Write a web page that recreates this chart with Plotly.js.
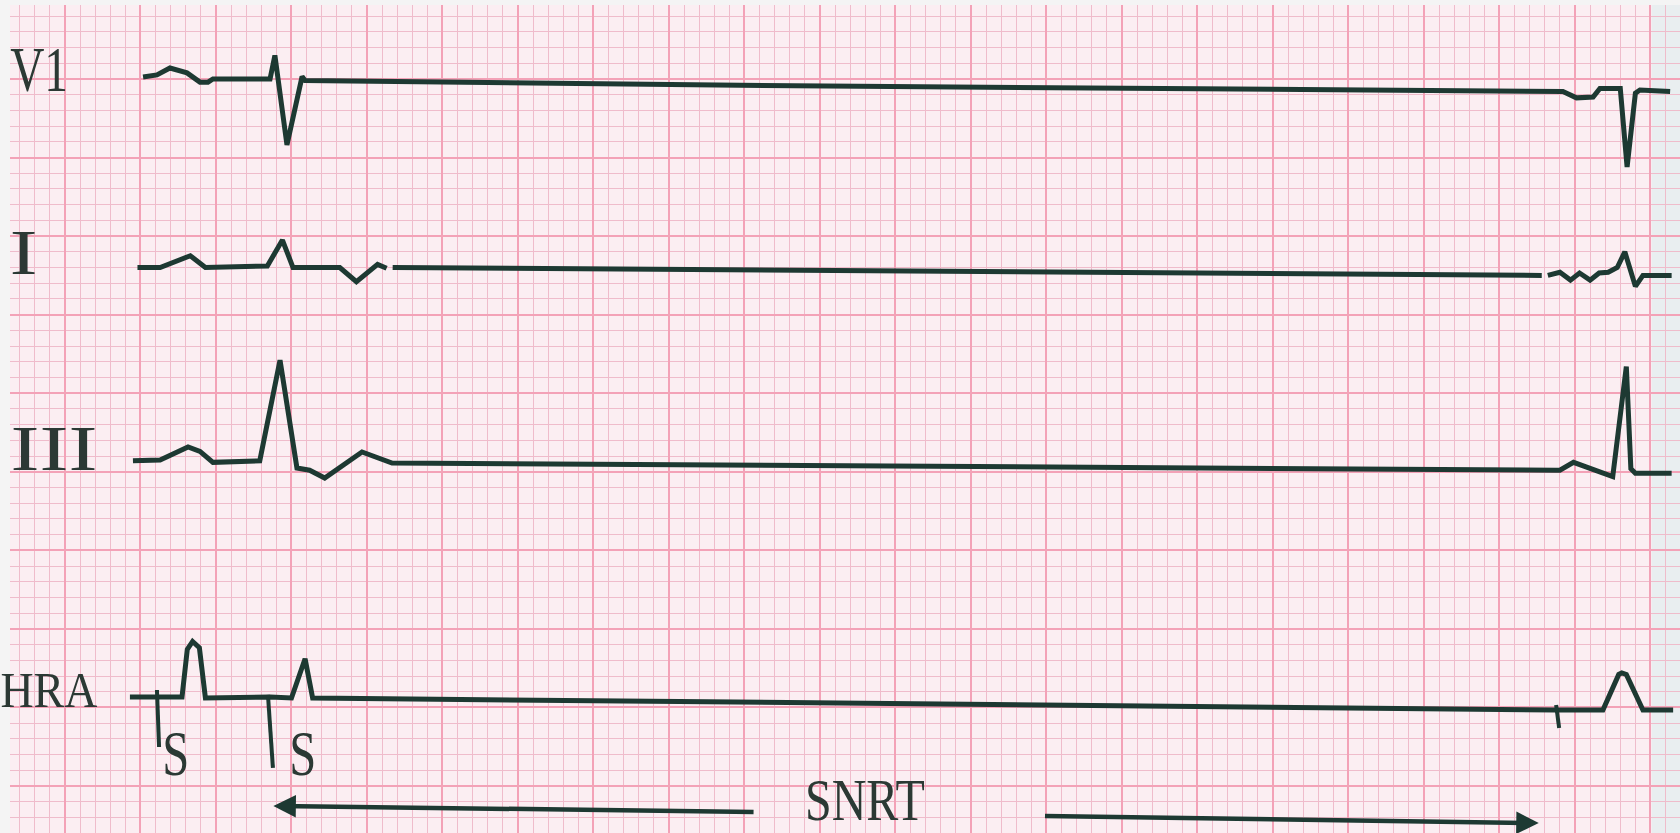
<!DOCTYPE html>
<html>
<head>
<meta charset="utf-8">
<script src="https://cdn.plot.ly/plotly-3.0.1.min.js"></script>
<style>
html,body{margin:0;padding:0;background:#f4f4f4;overflow:hidden}
#chart{width:1680px;height:833px}
</style>
</head>
<body>
<div id="chart"></div>
<script>
// ECG strip values, in millimetres of chart paper (x: time, y: amplitude)
var v1X = [10.17, 11.09, 11.95, 13.08, 13.94, 14.47, 14.8, 18.58, 18.9, 19.7, 20.7, 20.9, 49.7, 98.7, 104.2, 105.1, 106.2, 106.65, 107.8, 108.0, 108.45, 109.0, 109.3, 111.3];
var v1Y = [50.13, 50.26, 50.7, 50.39, 49.8, 49.8, 50.0, 50.0, 51.5, 45.8, 50.15, 49.9, 49.6, 49.2, 49.2, 48.8, 48.85, 49.4, 49.4, 49.4, 44.4, 49.1, 49.3, 49.2];

var iX = [9.8, 11.3, 13.3, 14.3, 18.4, 19.4, 20.1, 23.2, 24.3, 25.7, 26.3, null, 26.7, 102.8, null, 103.2, 104.0, 104.7, 105.3, 106.0, 106.6, 107.2, 107.8, 108.3, 108.5, 109.0, 109.5, 111.4];
var iY = [38.0, 38.0, 38.75, 38.0, 38.1, 39.75, 38.0, 38.0, 37.1, 38.2, 37.95, null, 38.0, 37.5, null, 37.5, 37.7, 37.2, 37.65, 37.2, 37.65, 37.7, 38.0, 39.0, 38.3, 36.8, 37.5, 37.5];

var iiiX = [9.5, 11.3, 13.15, 13.94, 14.8, 17.9, 19.24, 20.36, 21.2, 22.2, 24.67, 25.66, 26.66, 103.7, 104.0, 104.9, 105.5, 106.5, 107.5, 108.4, 108.7, 109.0, 111.4];
var iiiY = [25.7, 25.75, 26.58, 26.3, 25.6, 25.7, 32.1, 25.24, 25.1, 24.6, 26.26, 25.88, 25.56, 25.1, 25.1, 25.6, 25.4, 25.1, 24.7, 31.7, 25.2, 24.9, 24.9];

var hraX = [9.3, 11.1, 12.75, 13.1, 13.45, 13.9, 14.3, 18.6, 20.0, 20.9, 21.4, 103.7, 106.85, 107.9, 108.1, 108.4, 109.5, 111.5];
var hraY = [10.67, 10.67, 10.67, 13.7, 14.2, 13.8, 10.6, 10.67, 10.6, 13.1, 10.6, 9.84, 9.84, 12.1, 12.2, 12.1, 9.84, 9.84];

// stimulus artefacts on the HRA channel
var stimX = [11.09, 11.23, null, 18.44, 18.77, null, 103.75, 103.95];
var stimY = [11.11, 7.48, null, 10.8, 6.15, null, 10.16, 8.69];

// lead labels and marks
var leadLabels = ['V1', 'I', 'III', 'HRA'];
var leadLabelX = [3.25, 2.25, 4.24, 3.91];
var leadLabelY = [50.6, 38.96, 26.45, 11.1];
var stimLabels = ['S', 'S'];
var stimLabelX = [12.38, 20.79];
var stimLabelY = [7.04, 7.04];
var snrtLabel = 'SNRT';
var snrtPos = [57.95, 4.1];

// SNRT arrows: [headX, headY, tailX, tailY]
var snrtArrows = [
  [18.8, 3.73, 50.7, 3.35],
  [102.6, 2.64, 69.8, 3.09]
];

var ink = '#1d3932';
var labelInk = '#2b3934';

function lead(x, y, w) {
  return {x: x, y: y, type: 'scatter', mode: 'lines', connectgaps: false,
          line: {color: ink, width: w || 5, shape: 'linear'}, hoverinfo: 'skip'};
}

var traces = [lead(v1X, v1Y), lead(iX, iY), lead(iiiX, iiiY), lead(hraX, hraY), lead(stimX, stimY, 4)];

var annotations = [];
var labelSizes = [64, 64, 64, 51];
for (var k = 0; k < leadLabels.length; k++) {
  annotations.push({x: leadLabelX[k], y: leadLabelY[k], xref: 'x', yref: 'y', text: leadLabels[k],
    showarrow: false, xanchor: 'center', yanchor: 'middle',
    font: {family: 'Liberation Serif, serif', size: labelSizes[k], color: labelInk}});
}
for (var s = 0; s < stimLabels.length; s++) {
  annotations.push({x: stimLabelX[s], y: stimLabelY[s], xref: 'x', yref: 'y', text: stimLabels[s],
    showarrow: false, xanchor: 'center', yanchor: 'middle',
    font: {family: 'Liberation Serif, serif', size: 64, color: labelInk}});
}
annotations.push({x: snrtPos[0], y: snrtPos[1], xref: 'x', yref: 'y', text: snrtLabel,
  showarrow: false, xanchor: 'center', yanchor: 'middle',
  font: {family: 'Liberation Serif, serif', size: 60, color: labelInk}});
snrtArrows.forEach(function (a) {
  annotations.push({x: a[0], y: a[1], ax: a[2], ay: a[3], xref: 'x', yref: 'y', axref: 'x', ayref: 'y',
    text: '', showarrow: true, arrowhead: 2, arrowsize: 1, arrowwidth: 4.5, arrowcolor: ink, standoff: 0});
});

var gridAxis = function (range) {
  return {range: range, dtick: 5, tick0: 0, showgrid: true, gridcolor: '#f3a2b7', gridwidth: 2,
    zeroline: false, showticklabels: false, ticks: '', showline: false, fixedrange: true,
    minor: {dtick: 1, tick0: 0, showgrid: true, gridcolor: '#efbccb', gridwidth: 1}};
};

var layout = {
  width: 1680, height: 833,
  margin: {l: 10, r: 0, t: 5, b: 0, pad: 0},
  paper_bgcolor: '#f4f4f4',
  plot_bgcolor: '#fbeef2',
  showlegend: false,
  xaxis: gridAxis([1.358, 111.954]),
  yaxis: gridAxis([2.008, 54.71]),
  shapes: [{type: 'rect', xref: 'x', yref: 'paper', x0: 110.08, x1: 113, y0: 0, y1: 1,
            fillcolor: '#e9eef0', line: {width: 0}, layer: 'between'}],
  annotations: annotations
};

var squeeze = {'V1': 0.74, 'I': 1.3, 'III': 1.36, 'HRA': 0.9, 'S': 0.76, 'SNRT': 0.8};

Plotly.newPlot('chart', traces, layout, {staticPlot: true, displayModeBar: false}).then(function () {
  document.querySelectorAll('.annotation-text').forEach(function (t) {
    var f = squeeze[t.textContent];
    if (f && f !== 1) {
      t.style.transformBox = 'fill-box';
      t.style.transformOrigin = 'center';
      t.style.transform = 'scaleX(' + f + ')';
    }
  });
});
</script>
</body>
</html>
